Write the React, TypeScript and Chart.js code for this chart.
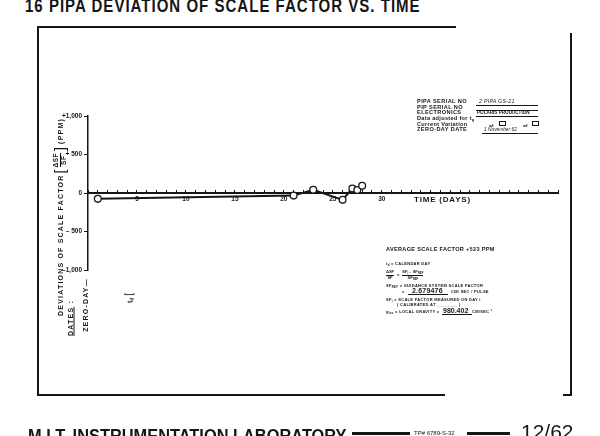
import React, { useEffect, useRef } from "react";
import { Chart, registerables } from "chart.js";

Chart.register(...registerables);

// ---- data ----
const days = [1, 21, 23, 26, 27, 27.5, 28];
const deviationPpm = [-76, -34, 42, -89, 59, 38, 93];
const xLabelDays = [5, 10, 15, 20, 25, 30];
const yTickValues = [1000, 500, 0, -500, -1000];
const yTickLabels = ["+1,000", "+ 500", "0", "– 500", "–1,000"];

const SANS = '"Liberation Sans", Arial, sans-serif';
const INK = "#161616";

type TP = { x: number; y: number; s: number; children: React.ReactNode; st?: React.CSSProperties };
const T = ({ x, y, s, children, st }: TP) => (
  <div
    style={{
      position: "absolute",
      left: x,
      top: y - s / 2,
      fontSize: s,
      lineHeight: 1,
      fontFamily: SANS,
      fontWeight: 700,
      color: INK,
      whiteSpace: "nowrap",
      ...st,
    }}
  >
    {children}
  </div>
);

const R = ({ cx, cy, s, children, st }: { cx: number; cy: number; s: number; children: React.ReactNode; st?: React.CSSProperties }) => (
  <div
    style={{
      position: "absolute",
      left: cx,
      top: cy,
      transform: "translate(-50%,-50%) rotate(-90deg)",
      fontSize: s,
      lineHeight: 1,
      fontFamily: SANS,
      fontWeight: 700,
      color: INK,
      whiteSpace: "nowrap",
      ...st,
    }}
  >
    {children}
  </div>
);

const Line = ({ x, y, w, h }: { x: number; y: number; w: number; h: number }) => (
  <div style={{ position: "absolute", left: x, top: y, width: w, height: h, background: INK }} />
);

const Box = ({ x, y }: { x: number; y: number }) => (
  <div style={{ position: "absolute", left: x, top: y, width: 7, height: 5, border: `1px solid ${INK}`, boxSizing: "border-box" }} />
);

const sub = (t: string) => <sub style={{ fontSize: "0.7em", verticalAlign: "-0.25em" }}>{t}</sub>;

export default function App() {
  const canvasRef = useRef<HTMLCanvasElement | null>(null);

  useEffect(() => {
    if (!canvasRef.current) return;
    const tickFont = { size: 6.5, weight: "bold" as const, family: SANS };
    const chart = new Chart(canvasRef.current, {
      type: "line",
      data: {
        datasets: [
          {
            data: days.map((d, i) => ({ x: d, y: deviationPpm[i] })),
            borderColor: INK,
            borderWidth: 2,
            pointRadius: 3.4,
            pointBackgroundColor: "#fff",
            pointBorderColor: INK,
            pointBorderWidth: 1.3,
            tension: 0,
            clip: false as any,
          },
        ],
      },
      options: {
        responsive: false,
        animation: false,
        devicePixelRatio: 1,
        layout: { padding: { left: 58, right: 42, top: 116, bottom: 166 } },
        plugins: { legend: { display: false }, tooltip: { enabled: false }, title: { display: false } },
        scales: {
          x: {
            type: "linear",
            min: 0,
            max: 48,
            position: { y: 0 } as any,
            grid: { drawOnChartArea: false, drawTicks: true, tickLength: -4, color: INK, lineWidth: 1 },
            border: { display: true, color: INK, width: 2 },
            ticks: {
              stepSize: 1,
              autoSkip: false,
              maxRotation: 0,
              padding: 6,
              color: INK,
              font: tickFont,
              callback: (v: any) => (xLabelDays.includes(Number(v)) ? String(v) : ""),
            },
          },
          y: {
            type: "linear",
            min: -1000,
            max: 1000,
            position: "left",
            afterFit: (s: any) => {
              s.width = 30;
            },
            grid: { drawOnChartArea: false, drawTicks: true, tickLength: 4, color: INK, lineWidth: 1 },
            border: { display: true, color: INK, width: 1.5 },
            ticks: {
              stepSize: 500,
              padding: 2,
              color: INK,
              font: tickFont,
              callback: (v: any) => {
                const i = yTickValues.indexOf(Number(v));
                return i >= 0 ? yTickLabels[i] : "";
              },
            },
          },
        },
      },
    });
    return () => chart.destroy();
  }, []);

  return (
    <div style={{ position: "fixed", left: 0, top: 0, width: 600, height: 436, background: "#fff", overflow: "hidden" }}>
      {/* page title */}
      <div
        style={{
          position: "absolute",
          left: 25,
          top: -3.5,
          fontSize: 18,
          lineHeight: 1,
          fontFamily: SANS,
          fontWeight: 700,
          color: INK,
          whiteSpace: "nowrap",
          letterSpacing: 1.2,
          transform: "scaleX(0.835)",
          transformOrigin: "left top",
        }}
      >
        16 PIPA DEVIATION OF SCALE FACTOR VS. TIME
      </div>

      {/* frame */}
      <Line x={37} y={26} w={419} h={2} />
      <Line x={37} y={26} w={2} h={370} />
      <Line x={37} y={394} w={408} h={2} />
      <Line x={563} y={394} w={9} h={2} />
      <Line x={570} y={33} w={2} h={363} />

      <canvas ref={canvasRef} width={600} height={436} style={{ position: "absolute", left: 0, top: 0, width: 600, height: 436 }} />

      {/* y-axis title */}
      <R cx={59.5} cy={217} s={7} st={{ letterSpacing: 1.2, display: "flex", alignItems: "center" }}>
        <span>DEVIATIONS OF SCALE FACTOR </span>
        <span style={{ fontSize: 14, fontWeight: 400, margin: "0 1px" }}>[</span>
        <span style={{ display: "inline-flex", flexDirection: "column", alignItems: "center", fontSize: 6.5, letterSpacing: 0.5 }}>
          <span style={{ borderBottom: `1px solid ${INK}` }}>ΔSF</span>
          <span>SF</span>
        </span>
        <span style={{ fontSize: 14, fontWeight: 400, margin: "0 2px" }}>]</span>
        <span>(PPM)</span>
      </R>
      <R cx={70} cy={318} s={7} st={{ letterSpacing: 1.2 }}>
        <span style={{ textDecoration: "underline" }}>DATES</span> :
      </R>
      <R cx={84.5} cy={305} s={7} st={{ letterSpacing: 1.2 }}>ZERO-DAY—</R>
      <R cx={130} cy={298} s={7}>
        t{sub("d")} <span style={{ fontSize: 10, fontWeight: 400 }}>[</span>
      </R>

      <T x={414} y={200} s={8} st={{ letterSpacing: 0.8 }}>TIME (DAYS)</T>

      {/* info block */}
      <T x={417} y={102} s={5.6} st={{ letterSpacing: 0.4 }}>PIPA SERIAL NO</T>
      <T x={479} y={102} s={5.2} st={{ letterSpacing: 0.3, fontStyle: "italic", fontWeight: 400 }}>2  PIPA  GS-21</T>
      <Line x={476} y={104.5} w={62} h={1} />
      <T x={417} y={107.5} s={5.6} st={{ letterSpacing: 0.4 }}>PIP SERIAL NO</T>
      <Line x={476} y={110} w={62} h={1} />
      <T x={417} y={113} s={5.6} st={{ letterSpacing: 0.4 }}>ELECTRONICS</T>
      <T x={477} y={113} s={4.6} st={{ letterSpacing: 0 }}>POLARIS  PRODUCTION</T>
      <Line x={476} y={115.5} w={62} h={1} />
      <T x={417} y={119} s={5.6} st={{ letterSpacing: 0.3 }}>Data adjusted for t{sub("g")}</T>
      <T x={417} y={124.5} s={5.6} st={{ letterSpacing: 0.3 }}>Current Variation</T>
      <T x={489} y={126} s={4.4}>±£</T>
      <Box x={499} y={121} />
      <T x={523} y={126} s={4.4}>±£</T>
      <Box x={532} y={121} />
      <T x={417} y={130} s={5.6} st={{ letterSpacing: 0.4 }}>ZERO-DAY DATE</T>
      <T x={484} y={130} s={4.8} st={{ fontStyle: "italic", fontWeight: 400 }}>1 November  62</T>
      <Line x={482} y={132.5} w={56} h={1} />

      {/* constants block */}
      <T x={386} y={250} s={5.6} st={{ letterSpacing: 0.3 }}>AVERAGE SCALE FACTOR</T>
      <T x={466} y={250} s={5.6} st={{ letterSpacing: 0.3 }}>+523 PPM</T>
      <T x={386} y={264} s={4} st={{ letterSpacing: 0.3 }}>t{sub("d")} = CALENDAR DAY</T>
      <div style={{ position: "absolute", left: 386, top: 270, display: "flex", alignItems: "center", fontFamily: SANS, fontWeight: 700, fontSize: 4, color: INK, lineHeight: 1.1, whiteSpace: "nowrap" }}>
        <span style={{ display: "inline-flex", flexDirection: "column", alignItems: "center" }}>
          <span style={{ borderBottom: `1px solid ${INK}` }}>ΔSF</span>
          <span>SF</span>
        </span>
        <span style={{ margin: "0 3px" }}>=</span>
        <span style={{ display: "inline-flex", flexDirection: "column", alignItems: "center" }}>
          <span style={{ borderBottom: `1px solid ${INK}` }}>SF{sub("i")} – SF{sub("REF")}</span>
          <span>SF{sub("REF")}</span>
        </span>
      </div>
      <T x={386} y={286} s={4} st={{ letterSpacing: 0.3 }}>SF{sub("REF")} = GUIDANCE SYSTEM SCALE FACTOR</T>
      <T x={402} y={291.5} s={4}>=</T>
      <T x={412} y={290.5} s={7} st={{ letterSpacing: 0.2 }}>2.679476</T>
      <Line x={408} y={294} w={40} h={1} />
      <T x={451} y={292} s={4} st={{ letterSpacing: 0.3 }}>CM/ SEC / PULSE</T>
      <T x={386} y={300} s={4} st={{ letterSpacing: 0.3 }}>SF{sub("i")} = SCALE FACTOR MEASURED ON DAY i</T>
      <T x={397} y={304.5} s={4} st={{ letterSpacing: 0.3 }}>( CALIBRATED AT ________ )</T>
      <T x={386} y={311.5} s={4} st={{ letterSpacing: 0.3 }}>g{sub("loc")} = LOCAL GRAVITY =</T>
      <T x={443} y={310.5} s={7}>980.402</T>
      <Line x={442} y={314} w={30} h={1} />
      <T x={472} y={311.5} s={4} st={{ letterSpacing: 0.3 }}>CM/SEC ²</T>

      {/* footer */}
      <div
        style={{
          position: "absolute",
          left: 28,
          top: 427,
          fontSize: 18,
          lineHeight: 1,
          fontFamily: SANS,
          fontWeight: 700,
          color: INK,
          whiteSpace: "nowrap",
          transform: "scaleX(0.91)",
          transformOrigin: "left top",
        }}
      >
        M.I.T. INSTRUMENTATION LABORATORY
      </div>
      <Line x={352} y={432} w={58} h={3} />
      <T x={414} y={433} s={6} st={{ fontWeight: 400 }}>TP# 6789-S-32</T>
      <Line x={467} y={432} w={43} h={3} />
      <div style={{ position: "absolute", left: 521, top: 421, fontSize: 21, lineHeight: 1, fontFamily: SANS, fontWeight: 400, color: INK, whiteSpace: "nowrap" }}>
        12/62
      </div>
    </div>
  );
}
